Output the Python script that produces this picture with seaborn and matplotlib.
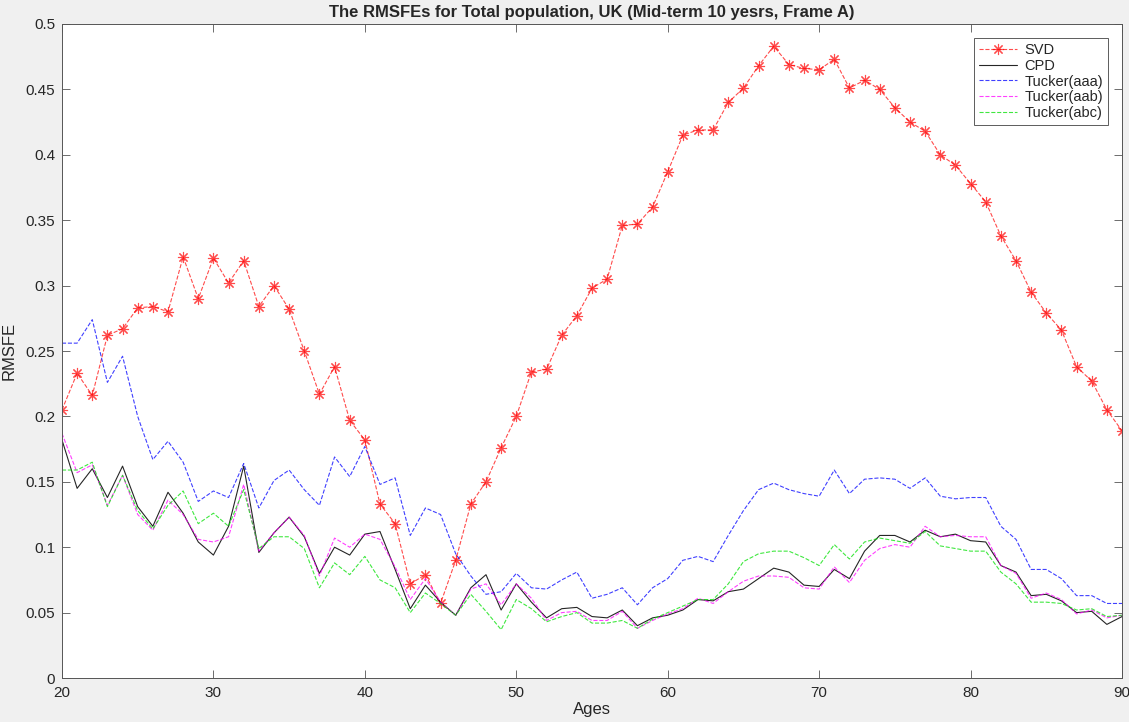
import matplotlib
matplotlib.use("Agg")
import matplotlib.pyplot as plt
import seaborn as sns
from matplotlib.ticker import FuncFormatter

ages = list(range(20, 91))

svd = [0.205, 0.233, 0.216, 0.262, 0.267, 0.283, 0.284, 0.280, 0.322, 0.290,
       0.321, 0.302, 0.319, 0.284, 0.300, 0.282, 0.250, 0.217, 0.238, 0.197,
       0.182, 0.133, 0.118, 0.072, 0.079, 0.057, 0.090, 0.133, 0.150, 0.176,
       0.200, 0.234, 0.236, 0.262, 0.277, 0.298, 0.305, 0.346, 0.347, 0.360,
       0.387, 0.415, 0.419, 0.419, 0.440, 0.451, 0.468, 0.483, 0.469, 0.466,
       0.465, 0.473, 0.451, 0.457, 0.450, 0.436, 0.425, 0.418, 0.400, 0.392,
       0.378, 0.364, 0.338, 0.319, 0.295, 0.279, 0.266, 0.238, 0.227, 0.205,
       0.189]

cpd = [0.182, 0.145, 0.160, 0.138, 0.162, 0.131, 0.116, 0.142, 0.126, 0.104,
       0.094, 0.116, 0.162, 0.096, 0.111, 0.123, 0.108, 0.080, 0.100, 0.094,
       0.110, 0.112, 0.083, 0.053, 0.071, 0.058, 0.048, 0.069, 0.079, 0.052,
       0.072, 0.058, 0.046, 0.053, 0.054, 0.047, 0.046, 0.052, 0.040, 0.046,
       0.048, 0.052, 0.060, 0.059, 0.066, 0.068, 0.076, 0.084, 0.081, 0.071,
       0.070, 0.083, 0.076, 0.097, 0.109, 0.109, 0.104, 0.113, 0.108, 0.110,
       0.105, 0.104, 0.086, 0.081, 0.063, 0.064, 0.059, 0.050, 0.051, 0.041,
       0.047]

tucker_aaa = [0.256, 0.256, 0.274, 0.226, 0.246, 0.200, 0.167, 0.181, 0.165, 0.135,
              0.143, 0.138, 0.164, 0.130, 0.151, 0.159, 0.144, 0.132, 0.169, 0.154,
              0.177, 0.148, 0.153, 0.109, 0.130, 0.125, 0.095, 0.078, 0.064, 0.066,
              0.080, 0.069, 0.068, 0.075, 0.081, 0.061, 0.064, 0.069, 0.056, 0.069,
              0.076, 0.090, 0.093, 0.089, 0.109, 0.128, 0.144, 0.149, 0.144, 0.141,
              0.139, 0.159, 0.141, 0.152, 0.153, 0.152, 0.145, 0.153, 0.139, 0.137,
              0.138, 0.138, 0.116, 0.106, 0.083, 0.083, 0.076, 0.063, 0.063, 0.057,
              0.057]

tucker_aab = [0.187, 0.157, 0.163, 0.132, 0.155, 0.125, 0.113, 0.136, 0.125, 0.106,
              0.104, 0.108, 0.148, 0.097, 0.111, 0.123, 0.109, 0.078, 0.107, 0.100,
              0.110, 0.106, 0.085, 0.060, 0.076, 0.058, 0.048, 0.068, 0.072, 0.056,
              0.072, 0.061, 0.044, 0.050, 0.051, 0.044, 0.044, 0.051, 0.038, 0.044,
              0.049, 0.053, 0.061, 0.057, 0.066, 0.074, 0.078, 0.078, 0.077, 0.069,
              0.068, 0.085, 0.073, 0.090, 0.099, 0.102, 0.100, 0.116, 0.108, 0.109,
              0.108, 0.108, 0.086, 0.080, 0.061, 0.065, 0.060, 0.049, 0.052, 0.046,
              0.048]

tucker_abc = [0.159, 0.159, 0.165, 0.131, 0.155, 0.128, 0.114, 0.132, 0.143, 0.118,
              0.126, 0.116, 0.144, 0.099, 0.108, 0.108, 0.099, 0.069, 0.088, 0.079,
              0.093, 0.075, 0.069, 0.050, 0.065, 0.057, 0.048, 0.064, 0.051, 0.037,
              0.060, 0.053, 0.043, 0.047, 0.050, 0.042, 0.042, 0.044, 0.038, 0.045,
              0.050, 0.055, 0.060, 0.060, 0.072, 0.089, 0.095, 0.097, 0.097, 0.092,
              0.086, 0.102, 0.091, 0.104, 0.107, 0.105, 0.103, 0.112, 0.101, 0.099,
              0.097, 0.097, 0.081, 0.072, 0.058, 0.058, 0.057, 0.052, 0.053, 0.047,
              0.048]

sns.set_style("ticks")
plt.rcParams['font.family'] = ['Liberation Sans', 'DejaVu Sans']

fig = plt.figure(figsize=(11.29, 7.22), dpi=100, facecolor='#f0f0f0')
ax = fig.add_axes([0.0549, 0.0609, 0.9389, 0.9059])
ax.set_facecolor('white')

# MATLAB-style asterisk marker (seaborn paints marker edges white by default)
sns.lineplot(x=ages, y=svd, ax=ax, color='#ff0000', linestyle='--', linewidth=0.8,
             marker=(8, 2, 0), markersize=8, markeredgewidth=0.8,
             markeredgecolor='#ff0000', alpha=0.7, label='SVD')
sns.lineplot(x=ages, y=cpd, ax=ax, color='black', linewidth=0.8, alpha=0.85, label='CPD')
sns.lineplot(x=ages, y=tucker_aaa, ax=ax, color='#0000ff', linestyle='--', linewidth=0.8,
             alpha=0.75, label='Tucker(aaa)')
sns.lineplot(x=ages, y=tucker_aab, ax=ax, color='#ff00ff', linestyle='--', linewidth=0.8,
             alpha=0.75, label='Tucker(aab)')
sns.lineplot(x=ages, y=tucker_abc, ax=ax, color='#00e000', linestyle='--', linewidth=0.8,
             alpha=0.75, label='Tucker(abc)')

ax.set_xlim(20, 90)
ax.set_ylim(0, 0.5)
ax.set_xticks(range(20, 91, 10))
ax.set_yticks([i * 0.05 for i in range(11)])
ax.yaxis.set_major_formatter(FuncFormatter(lambda v, p: f"{v:g}"))
ax.tick_params(direction='in', top=True, right=True, length=6, width=0.6,
               color='#555555', labelsize=11, labelcolor='#262626')
ax.tick_params(axis='x', pad=6)
ax.tick_params(axis='y', pad=5)
for s in ax.spines.values():
    s.set_color('#555555')
    s.set_linewidth(0.7)

ax.set_title("The RMSFEs for Total population, UK (Mid-term 10 yesrs, Frame A)",
             fontsize=12, fontweight='bold', pad=5)
ax.set_xlabel("Ages", fontsize=12, labelpad=1, color='#262626')
ax.set_ylabel("RMSFE", fontsize=12, labelpad=6, color='#262626')

leg = ax.legend(loc='upper right', bbox_to_anchor=(0.9868, 0.9786), borderaxespad=0,
                fontsize=10.5, frameon=True, fancybox=False, handlelength=2.6,
                labelspacing=0.12, borderpad=0.35, handletextpad=0.5)
leg.get_frame().set_edgecolor('#333333')
leg.get_frame().set_linewidth(0.7)

fig.savefig("out.png", dpi=100, facecolor=fig.get_facecolor())
